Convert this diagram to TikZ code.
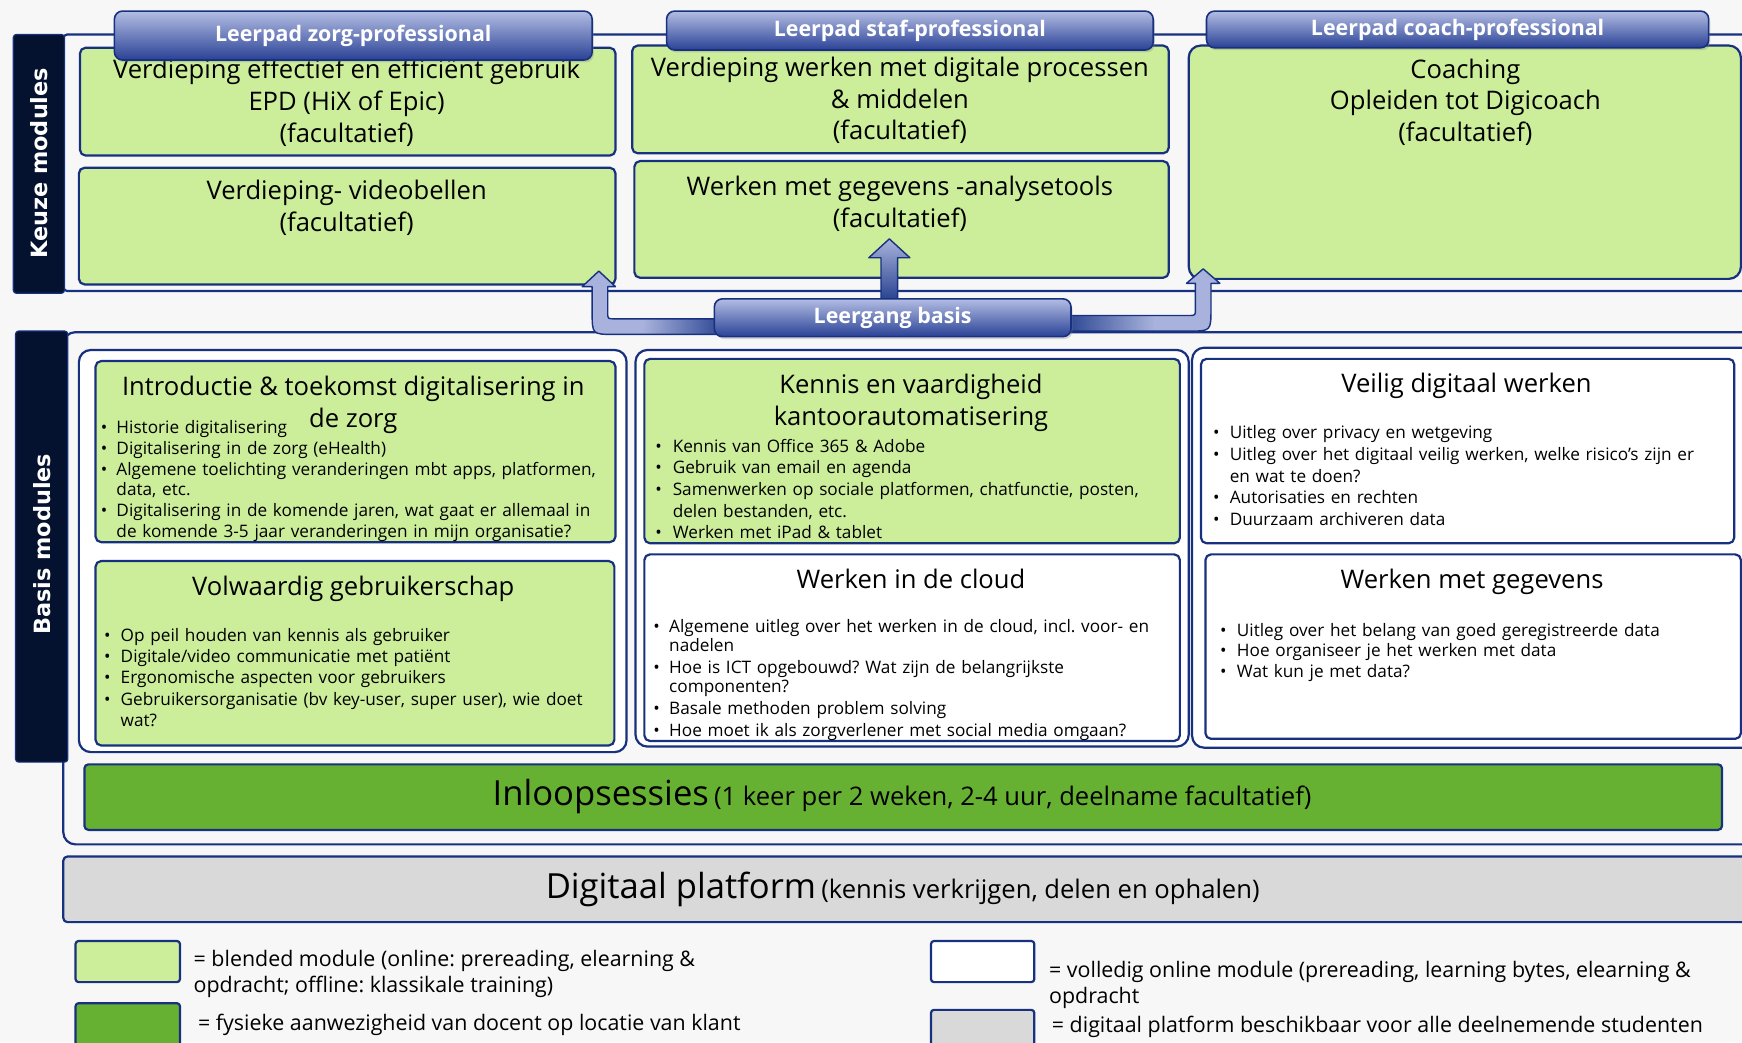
\documentclass[tikz,border=0pt]{standalone}
\usepackage{fontspec}
\setmainfont{Open Sans}
\newfontfamily\vfont{DejaVu Sans}
\usetikzlibrary{shadows}
\definecolor{bgc}{HTML}{F7F7F7}
\definecolor{navy}{HTML}{17307F}
\definecolor{dbar}{HTML}{04122F}
\definecolor{lgreen}{HTML}{CCEE9A}
\definecolor{igreen}{HTML}{66B132}
\definecolor{pgray}{HTML}{D9D9D9}
\definecolor{htop}{HTML}{B3BDE3}
\definecolor{hbot}{HTML}{2A4296}
\definecolor{arrl}{HTML}{A8B2DC}
\definecolor{arrd}{HTML}{1C3889}
\frenchspacing
\newlength\uu \setlength\uu{0.5556pt}
\newlength\bind
\newcommand\bitem[1]{\noindent\hangindent=\bind\hangafter=1\hbox to\bind{•\hss}#1\par}
\newcommand\mkbox[6]{\node[#6,minimum width={(#4-#2)*0.5556pt},minimum height={(#5-#3)*0.5556pt}] (#1) at ({(#2+#4)/2},{(#3+#5)/2}) {};}
\pgfdeclarehorizontalshading{arrLs}{100bp}{color(0bp)=(arrl); color(45bp)=(arrl); color(75bp)=(arrd); color(100bp)=(arrd)}
\pgfdeclarehorizontalshading{arrRs}{100bp}{color(0bp)=(arrd); color(25bp)=(arrd); color(55bp)=(arrl); color(100bp)=(arrl)}
\begin{document}
\begin{tikzpicture}[x=0.5556pt,y=-0.5556pt,line join=round,
  mod/.style={draw=navy,line width=1.1pt,rounded corners=2.8pt,inner sep=0pt,outer sep=0pt},
  gmod/.style={mod,fill=lgreen},
  wmod/.style={mod,fill=white},
  hdr/.style={draw=navy,line width=0.8pt,rounded corners=4pt,inner sep=0pt,outer sep=0pt,top color=htop,bottom color=hbot,
    drop shadow={shadow xshift=0.8pt,shadow yshift=-1.2pt,opacity=0.3}},
  htxt/.style={inner sep=0pt,text=white,font=\bfseries\fontsize{10.7}{12}\selectfont},
  bartxt/.style={inner sep=0pt,rotate=90,text=white,font=\vfont\bfseries\fontsize{11.2}{13}\selectfont},
  dbarbox/.style={fill=dbar,draw=navy,line width=0.6pt,rounded corners=1.5pt,inner sep=0pt,outer sep=0pt},
  ttl/.style={font=\fontsize{12.8}{15.8}\selectfont,align=center,inner sep=0pt},
  blist/.style={anchor=north west,inner sep=0pt,text width=330pt,align=left,font=\fontsize{8.6}{10.6}\selectfont},
  leg/.style={inner sep=0pt,font=\fontsize{10.7}{13.1}\selectfont,align=left},
  arr/.style={draw=navy,line width=0.7pt}]
\fill[bgc,use as bounding box] (0,0) rectangle (1568,938);

% containers
\mkbox{kcont}{57}{31}{1600}{262}{mod,fill=bgc,rounded corners=2pt}
\mkbox{bcont}{57}{299}{1600}{760}{mod,fill=bgc,rounded corners=6pt}

% side bars
\mkbox{kbar}{12}{31}{58}{264}{dbarbox}
\node[bartxt] (kbart) at (35,147) {Keuze modules};
\mkbox{bbar}{14}{298}{61}{686}{dbarbox}
\node[bartxt] (bbart) at (37.5,490) {Basis modules};

% keuze modules
\mkbox{epd}{72}{43}{554}{140}{gmod}
\mkbox{video}{71}{151}{554}{256}{gmod}
\mkbox{proc}{569}{41}{1052}{138}{gmod}
\mkbox{anal}{571}{145}{1052}{250}{gmod}
\mkbox{coach}{1070}{41}{1567}{251}{gmod,rounded corners=6pt}
\node[ttl] (epdt) at (312,92.5) {Verdieping effectief en efficiënt gebruik\\EPD (HiX of Epic)\\(facultatief)};
\node[ttl] (videot) at (312,187) {Verdieping- videobellen\\(facultatief)};
\node[ttl] (proct) at (810,90.5) {Verdieping werken met digitale processen\\\& middelen\\(facultatief)};
\node[ttl] (analt) at (810,183.5) {Werken met gegevens -analysetools\\(facultatief)};
\node[ttl] (coacht) at (1319,92) {Coaching\\Opleiden tot Digicoach\\(facultatief)};

% headers
\mkbox{hz}{103}{10}{533}{54}{hdr}
\node[htxt] (hzt) at (hz) {Leerpad zorg-professional};
\mkbox{hs}{600}{10}{1038}{45}{hdr}
\node[htxt] (hst) at (hs) {Leerpad staf-professional};
\mkbox{hc}{1086}{10}{1538}{43}{hdr}
\node[htxt] (hct) at (hc) {Leerpad coach-professional};

% basis columns
\mkbox{col1}{71}{315}{564}{677}{mod,fill=white,rounded corners=6pt}
\mkbox{col2}{572}{315}{1070}{672}{mod,fill=white,rounded corners=6pt}
\mkbox{col3}{1073}{313}{1600}{673}{mod,fill=white,rounded corners=6pt}

% basis modules
\mkbox{intro}{86}{325}{554}{488}{gmod}
\mkbox{volw}{86}{505}{553}{671}{gmod}
\mkbox{kenn}{580}{323}{1062}{489}{gmod}
\mkbox{cloud}{580}{499}{1062}{667}{wmod}
\mkbox{veil}{1081}{323}{1561}{489}{wmod}
\mkbox{gegev}{1085}{499}{1567}{665}{wmod}

\node[ttl] (introt) at (318,364.5) {Introductie \& toekomst digitalisering in\\de zorg};
\node[ttl] (volwt) at (318,530) {Volwaardig gebruikerschap};
\node[ttl] (kennt) at (820,362.5) {Kennis en vaardigheid\\kantoorautomatisering};
\node[ttl] (cloudt) at (820,521.5) {Werken in de cloud};
\node[ttl] (veilt) at (1320,347.5) {Veilig digitaal werken};
\node[ttl] (gegevt) at (1325,523.5) {Werken met gegevens};

\node[blist,font=\fontsize{8.6}{10.4}\selectfont] (introl) at (90.5,378) {\setlength\bind{14\uu}%
\bitem{Historie digitalisering}%
\bitem{Digitalisering in de zorg (eHealth)}%
\bitem{Algemene toelichting veranderingen mbt apps, platformen,\newline data, etc.}%
\bitem{Digitalisering in de komende jaren, wat gaat er allemaal in\newline de komende 3-5 jaar veranderingen in mijn organisatie?}};
\node[blist,font=\fontsize{8.6}{10.65}\selectfont] (volwl) at (93.3,565) {\setlength\bind{15\uu}%
\bitem{Op peil houden van kennis als gebruiker}%
\bitem{Digitale/video communicatie met patiënt}%
\bitem{Ergonomische aspecten voor gebruikers}%
\bitem{Gebruikersorganisatie (bv key-user, super user), wie doet\newline wat?}};
\node[blist,font=\fontsize{8.6}{10.8}\selectfont] (kennl) at (589.5,395) {\setlength\bind{15.7\uu}%
\bitem{Kennis van Office 365 \& Adobe}%
\bitem{Gebruik van email en agenda}%
\bitem{Samenwerken op sociale platformen, chatfunctie, posten,\newline delen bestanden, etc.}%
\bitem{Werken met iPad \& tablet}};
\node[blist,font=\fontsize{8.6}{9.5}\selectfont] (cloudl) at (587.8,557) {\setlength\bind{14.2\uu}\setlength\parskip{1.5pt}%
\bitem{Algemene uitleg over het werken in de cloud, incl. voor- en\newline nadelen}%
\bitem{Hoe is ICT opgebouwd? Wat zijn de belangrijkste\newline componenten?}%
\bitem{Basale methoden problem solving}%
\bitem{Hoe moet ik als zorgverlener met social media omgaan?}};
\node[blist,font=\fontsize{8.6}{10.8}\selectfont] (veill) at (1091.5,383) {\setlength\bind{15.1\uu}%
\bitem{Uitleg over privacy en wetgeving}%
\bitem{Uitleg over het digitaal veilig werken, welke risico’s zijn er\newline en wat te doen?}%
\bitem{Autorisaties en rechten}%
\bitem{Duurzaam archiveren data}};
\node[blist,font=\fontsize{8.6}{10.3}\selectfont] (gegevl) at (1097.8,560.5) {\setlength\bind{15.2\uu}%
\bitem{Uitleg over het belang van goed geregistreerde data}%
\bitem{Hoe organiseer je het werken met data}%
\bitem{Wat kun je met data?}};

% arrows from Leergang basis
\shadedraw[arr,shading=arrLs] (660,287) -- (553,287) .. controls (547,287) .. (547,281) -- (547,258) -- (554,258) -- (539,244) -- (524,258) -- (533,258) -- (533,281) .. controls (533,301) .. (553,301) -- (660,301) -- cycle;
\shadedraw[arr,top color=arrl,bottom color=arrd] (793,275) -- (793,232) -- (782,232) -- (800.5,215) -- (819,232) -- (808,232) -- (808,275) -- cycle;
\shadedraw[arr,shading=arrRs] (950,284) -- (1070,284) .. controls (1076,284) .. (1076,278) -- (1076,255) -- (1068,255) -- (1083,242) -- (1098,255) -- (1090,255) -- (1090,278) .. controls (1090,298) .. (1070,298) -- (950,298) -- cycle;
\mkbox{lb}{643}{269}{964}{303}{hdr}
\node[htxt] (lbt) at (lb) {Leergang basis};

% inloop and platform
\mkbox{inl}{76}{688}{1550}{747}{mod,fill=igreen,rounded corners=2pt}
\node[inner sep=0pt] (inlt) at (812,717) {{\fontsize{17.3}{20}\selectfont Inloopsessies} {\fontsize{12.8}{15}\selectfont (1 keer per 2 weken, 2-4 uur, deelname facultatief)}};
\mkbox{dig}{57}{771}{1600}{830}{mod,fill=pgray,rounded corners=2pt}
\node[inner sep=0pt] (digt) at (812.5,801) {{\fontsize{17.3}{20}\selectfont Digitaal platform} {\fontsize{12.8}{15}\selectfont (kennis verkrijgen, delen en ophalen)}};

% legend
\mkbox{lg1}{68}{847}{162}{884}{gmod,rounded corners=1.5pt}
\mkbox{lg2}{68}{903}{162}{960}{mod,fill=igreen,rounded corners=1.5pt}
\mkbox{lg3}{838}{847}{931}{884}{wmod,rounded corners=1.5pt}
\mkbox{lg4}{838}{909}{931}{960}{mod,fill=pgray,rounded corners=1.5pt}
\node[leg,anchor=north west] (lg1t) at (174,854.6) {= blended module (online: prereading, elearning \&\\opdracht; offline: klassikale training)};
\node[leg,anchor=west] (lg2t) at (178,922.6) {= fysieke aanwezigheid van docent op locatie van klant};
\node[leg,anchor=north west] (lg3t) at (944,864.6) {= volledig online module (prereading, learning bytes, elearning \&\\opdracht};
\node[leg,anchor=west] (lg4t) at (946.5,924.5) {= digitaal platform beschikbaar voor alle deelnemende studenten};
\end{tikzpicture}
\end{document}
